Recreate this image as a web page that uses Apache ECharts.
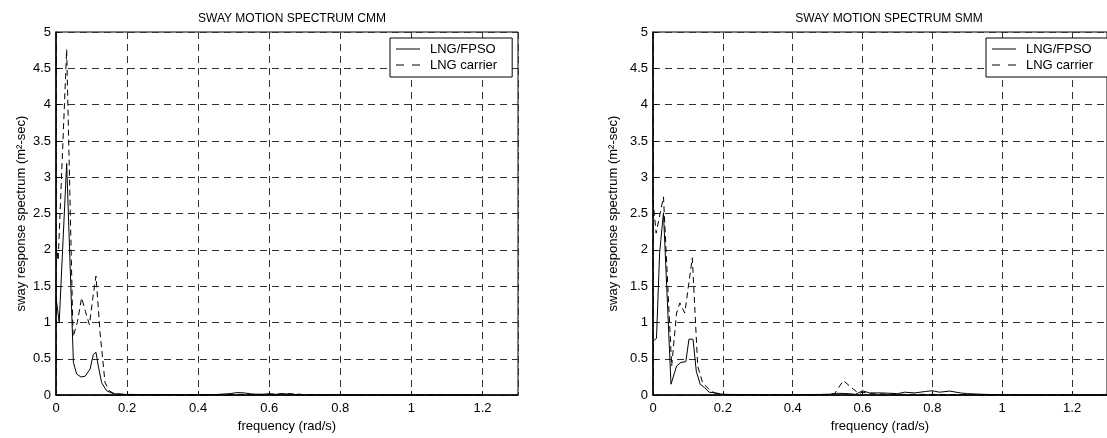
<!DOCTYPE html>
<html>
<head>
<meta charset="utf-8">
<script src="https://cdn.jsdelivr.net/npm/echarts@6/dist/echarts.min.js"></script>
<style>
html,body{margin:0;padding:0;background:#fff;}
#chart{width:1107px;height:438px;}
</style>
</head>
<body>
<div id="chart"></div>
<script>
// ---- data ----
const titles = ['SWAY MOTION SPECTRUM CMM', 'SWAY MOTION SPECTRUM SMM'];
const seriesNames = ['LNG/FPSO', 'LNG carrier'];
const xTickInterval = 0.2;
const yTickInterval = 0.5;

const cmmFpsoFreq = [0, 0.009, 0.030, 0.049, 0.058, 0.070, 0.082, 0.096, 0.105, 0.1125, 0.119, 0.1285, 0.1425, 0.161, 0.18, 0.2, 0.25, 0.3, 0.35, 0.4, 0.45, 0.49, 0.51, 0.53, 0.55, 0.58, 0.6, 0.62, 0.64, 0.66, 0.7, 0.8, 0.9, 1.0, 1.1, 1.2];
const cmmFpsoVal  = [1.35, 1.0, 3.19, 0.45, 0.29, 0.25, 0.26, 0.36, 0.56, 0.59, 0.40, 0.17, 0.06, 0.02, 0.012, 0.008, 0.005, 0.008, 0.005, 0.006, 0.008, 0.02, 0.035, 0.03, 0.015, 0.01, 0.02, 0.01, 0.02, 0.01, 0.005, 0.004, 0.004, 0.003, 0.003, 0.003];

const cmmCarrierFreq = [0, 0.006, 0.030, 0.048, 0.060, 0.072, 0.083, 0.094, 0.104, 0.1125, 0.124, 0.138, 0.15, 0.16, 0.18, 0.2, 0.3, 0.4, 0.5, 0.6, 0.65, 0.68, 0.7, 0.8, 0.9, 1.0, 1.1, 1.2];
const cmmCarrierVal  = [2.1, 1.85, 4.76, 0.80, 1.0, 1.34, 1.15, 0.97, 1.35, 1.64, 0.86, 0.17, 0.06, 0.03, 0.015, 0.01, 0.005, 0.005, 0.01, 0.01, 0.02, 0.015, 0.005, 0.004, 0.003, 0.003, 0.003, 0.003];

const smmFpsoFreq = [0, 0.01, 0.019, 0.030, 0.0515, 0.0675, 0.08, 0.094, 0.103, 0.1145, 0.124, 0.135, 0.147, 0.161, 0.18, 0.2, 0.3, 0.4, 0.5, 0.53, 0.56, 0.58, 0.6, 0.62, 0.65, 0.68, 0.7, 0.72, 0.75, 0.78, 0.8, 0.82, 0.85, 0.88, 0.9, 0.95, 1.0, 1.1, 1.2, 1.3];
const smmFpsoVal  = [0.745, 0.78, 1.96, 2.51, 0.15, 0.40, 0.45, 0.46, 0.77, 0.77, 0.33, 0.15, 0.105, 0.04, 0.03, 0.01, 0.005, 0.005, 0.01, 0.025, 0.02, 0.01, 0.06, 0.03, 0.03, 0.025, 0.02, 0.04, 0.03, 0.05, 0.06, 0.04, 0.055, 0.03, 0.02, 0.01, 0.005, 0.004, 0.003, 0.003];

const smmCarrierFreq = [0, 0.009, 0.030, 0.0535, 0.0675, 0.077, 0.091, 0.1125, 0.128, 0.142, 0.16, 0.18, 0.2, 0.3, 0.4, 0.5, 0.52, 0.545, 0.574, 0.59, 0.6, 0.62, 0.7, 0.8, 0.9, 1.0, 1.1, 1.2, 1.3];
const smmCarrierVal  = [2.69, 2.23, 2.73, 0.40, 1.13, 1.27, 1.13, 1.89, 0.40, 0.17, 0.08, 0.02, 0.01, 0.005, 0.005, 0.01, 0.02, 0.2, 0.08, 0.02, 0.04, 0.02, 0.01, 0.01, 0.005, 0.004, 0.003, 0.003, 0.003];

// ---- build ----
const pairs = (xs, ys) => xs.map((x, i) => [x, ys[i]]);
const FONT = 'Liberation Sans';
const grids = [
  {left: 56, top: 32, width: 462, height: 364},
  {left: 653, top: 32, width: 462, height: 364}
];
const gridStyle = {show: true, borderColor: '#000', borderWidth: 1, backgroundColor: 'transparent'};
const splitLine = {show: true, lineStyle: {color: '#333', type: [7, 5], width: 1}};
const solidIcon = 'path://M0,0h24v1h-24z';
const dashIcon = 'path://M0,0h8v1h-8z M16,0h8v1h-8z';

function xAxis(i) {
  return {
    type: 'value', gridIndex: i, min: 0, max: 1.3, interval: xTickInterval,
    name: 'frequency (rad/s)', nameLocation: 'middle', nameGap: 24,
    nameTextStyle: {fontFamily: FONT, fontSize: 13, color: '#000'},
    axisLine: {show: true, onZero: false, lineStyle: {color: '#000', width: 1.5}},
    axisTick: {show: true, inside: true, length: 4, lineStyle: {color: '#000'}},
    axisLabel: {fontFamily: FONT, fontSize: 13, color: '#000', margin: 7, showMaxLabel: false},
    splitLine: splitLine
  };
}
function yAxis(i, gap) {
  return {
    type: 'value', gridIndex: i, min: 0, max: 5, interval: yTickInterval,
    name: 'sway response spectrum (m\u00B2-sec)', nameLocation: 'middle', nameGap: gap,
    nameTextStyle: {fontFamily: FONT, fontSize: 13, color: '#000'},
    axisLine: {show: true, lineStyle: {color: '#000', width: 1.5}},
    axisTick: {show: true, inside: true, length: 4, lineStyle: {color: '#000'}},
    axisLabel: {fontFamily: FONT, fontSize: 13, color: '#000', margin: 5},
    splitLine: splitLine
  };
}
function line(name, data, idx, dashed) {
  return {
    name: name, type: 'line', xAxisIndex: idx, yAxisIndex: idx, data: data,
    symbol: 'none', smooth: false, animation: false,
    lineStyle: {color: '#000', width: 1, type: dashed ? [6, 4] : 'solid'},
    itemStyle: {color: '#000'}
  };
}
function legend(left) {
  return {
    show: true, left: left, top: 38, orient: 'vertical',
    data: [{name: seriesNames[0], icon: solidIcon}, {name: seriesNames[1], icon: dashIcon}],
    itemWidth: 24, itemHeight: 12, itemGap: 2, symbolKeepAspect: true,
    padding: [4, 15, 5, 6], borderColor: '#000', borderWidth: 1, backgroundColor: '#fff',
    textStyle: {fontFamily: FONT, fontSize: 13, color: '#000', lineHeight: 14, padding: [0, 0, 0, 5]},
    inactiveColor: '#000', selectedMode: false, z: 10
  };
}

const option = {
  backgroundColor: '#fff',
  animation: false,
  title: [
    {text: titles[0], left: 287, top: 8, textAlign: 'center', textStyle: {fontFamily: FONT, fontSize: 12, fontWeight: 'normal', color: '#000'}},
    {text: titles[1], left: 884, top: 8, textAlign: 'center', textStyle: {fontFamily: FONT, fontSize: 12, fontWeight: 'normal', color: '#000'}}
  ],
  legend: [legend(390), legend(986)],
  grid: grids.map(g => Object.assign({}, g, gridStyle)),
  xAxis: [xAxis(0), xAxis(1)],
  yAxis: [yAxis(0, 28), yAxis(1, 33)],
  series: [
    line(seriesNames[0], pairs(cmmFpsoFreq, cmmFpsoVal), 0, false),
    line(seriesNames[1], pairs(cmmCarrierFreq, cmmCarrierVal), 0, true),
    line(seriesNames[0], pairs(smmFpsoFreq, smmFpsoVal), 1, false),
    line(seriesNames[1], pairs(smmCarrierFreq, smmCarrierVal), 1, true)
  ]
};
const chart = echarts.init(document.getElementById('chart'), null, {renderer: 'canvas'});
chart.setOption(option);
</script>
</body>
</html>
